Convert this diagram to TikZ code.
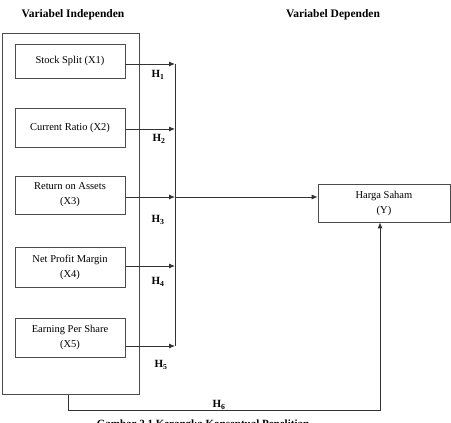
\documentclass[tikz,border=0pt]{standalone}
\usepackage{fontspec}
\setmainfont{Liberation Serif}
\usetikzlibrary{arrows.meta}
\begin{document}
\begin{tikzpicture}[x=1pt,y=-1pt,
  ln/.style={draw=black!80,line width=0.8pt},
  arr/.style={ln,-{Latex[length=6pt,width=5pt]}},
  varbox/.style={draw=black!70,line width=0.7pt,minimum width=110pt,inner sep=0pt,align=center,font=\fontsize{10.5}{15}\selectfont},
  title/.style={font=\bfseries\fontsize{11.5}{13}\selectfont},
  hlab/.style={font=\bfseries\fontsize{11}{13}\selectfont,inner sep=0pt}]
\useasboundingbox (0,0) rectangle (451,423);
\node[title] (ti) at (73,15) {Variabel Independen};
\node[title] (td) at (333,15) {Variabel Dependen};
\node[draw=black!70,line width=0.7pt,minimum width=137pt,minimum height=361pt,inner sep=0pt,anchor=north west] (outer) at (2,33) {};
\node[varbox,minimum height=34pt] (b1) at (70,61) {Stock Split (X1)};
\node[varbox,minimum height=39pt] (b2) at (70,127.5) {Current Ratio (X2)};
\node[varbox,minimum height=38pt] (b3) at (70,195) {Return on Assets\\(X3)};
\node[varbox,minimum height=40pt] (b4) at (70,267) {Net Profit Margin\\(X4)};
\node[varbox,minimum height=39pt] (b5) at (70,337.5) {Earning Per Share\\(X5)};
\node[varbox,minimum width=132pt,minimum height=38pt] (y) at (384,203) {Harga Saham\\(Y)};
\coordinate (j1) at (175,64);
\coordinate (j2) at (175,129);
\coordinate (j3) at (175,197);
\coordinate (j4) at (175,266);
\coordinate (j5) at (175,346);
\draw[arr] (b1.east |- j1) -- (j1);
\draw[arr] (b2.east |- j2) -- (j2);
\draw[arr] (b3.east |- j3) -- (j3);
\draw[arr] (b4.east |- j4) -- (j4);
\draw[arr] (b5.east |- j5) -- (j5);
\draw[ln] (j1) -- (j5);
\draw[arr] (j3) -- (y.west |- j3);
\coordinate (c6) at (68,410);
\coordinate (c7) at (380,410);
\draw[arr] (outer.south -| c6) -- (c6) -- (c7) -- (y.south -| c7);
\node[hlab] (h1) at (158,75) {H\textsubscript{1}};
\node[hlab] (h2) at (159,139) {H\textsubscript{2}};
\node[hlab] (h3) at (158,220) {H\textsubscript{3}};
\node[hlab] (h4) at (158,282) {H\textsubscript{4}};
\node[hlab] (h5) at (161,365) {H\textsubscript{5}};
\node[hlab] (h6) at (219,405) {H\textsubscript{6}};
\node[font=\bfseries\fontsize{11}{13}\selectfont,anchor=north,inner sep=0pt] (cap) at (203,419.5) {Gambar 2.1 Kerangka Konseptual Penelitian};
\end{tikzpicture}
\end{document}
